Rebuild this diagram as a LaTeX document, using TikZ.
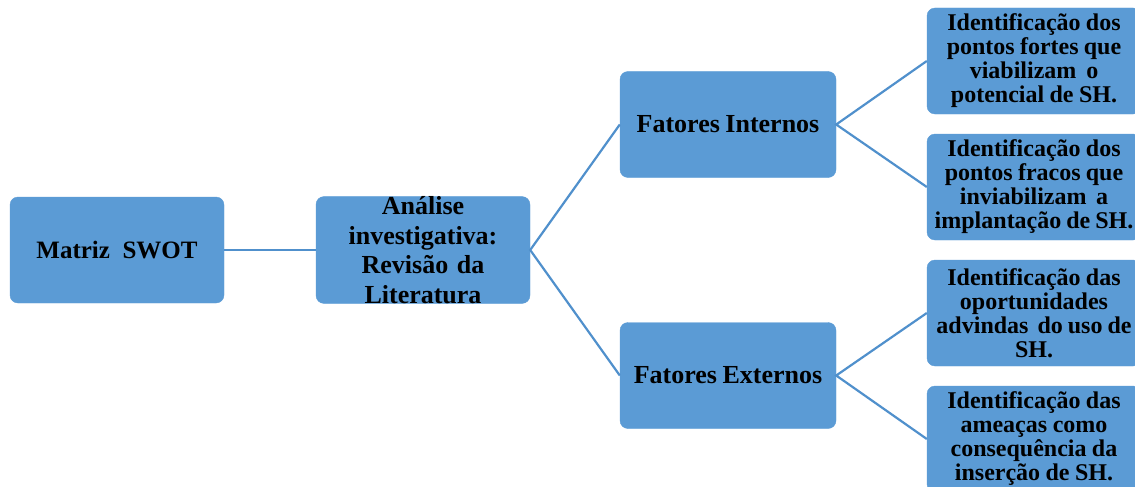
\documentclass[tikz,border=0pt]{standalone}
\usepackage{fontspec}
\setmainfont{Liberation Serif}
\definecolor{boxblue}{HTML}{5B9BD5}
\definecolor{lineblue}{HTML}{5090CC}
\newcommand\tightsp{\spaceskip=0.2em plus 0.05em minus 0.05em\relax}
\tikzset{
  box/.style={fill=boxblue, draw=boxblue, rounded corners=8pt, inner sep=0pt,
    align=center, font=\bfseries},
  mainbox/.style={box, minimum width=214pt, minimum height=106pt, text width=214pt},
  leafbox/.style={box, minimum width=214pt, minimum height=106pt, text width=210pt,
    font=\bfseries\fontsize{24}{24}\selectfont},
  link/.style={draw=lineblue, line width=2.2pt}
}
\begin{document}
\begin{tikzpicture}[x=1pt,y=-1pt]
\useasboundingbox (0,0) rectangle (1135,487);
\node[mainbox, font=\bfseries\fontsize{25}{29}\selectfont] (swot) at (117,250) {Matriz\, SWOT};
\node[mainbox, font=\bfseries\fontsize{26}{29.5}\selectfont] (ana) at (423,250) {Análise\\investigativa:\\Revisão da\\Literatura};
\node[mainbox, minimum width=216pt, font=\bfseries\fontsize{26}{29}\selectfont] (fi) at (728,124.5) {\tightsp Fatores Internos};
\node[mainbox, minimum width=216pt, font=\bfseries\fontsize{26}{29}\selectfont] (fe) at (728,375.5) {\tightsp Fatores Externos};
\node[leafbox] (l1) at (1034,61) {\tightsp Identificação dos\\pontos fortes que\\viabilizam\, o\\potencial de SH.};
\node[leafbox] (l2) at (1034,187) {\tightsp Identificação dos\\pontos fracos que\\inviabilizam\, a\\implantação de SH.};
\node[leafbox] (l3) at (1034,313) {\tightsp Identificação das\\oportunidades\\advindas\, do uso de\\SH.};
\node[leafbox] (l4) at (1034,439) {\tightsp Identificação das\\ameaças como\\consequência da\\inserção de SH.};
\draw[link] (swot.east) -- (ana.west);
\draw[link] (fi.west) -- (ana.east) -- (fe.west);
\draw[link] (l1.west) -- (fi.east) -- (l2.west);
\draw[link] (l3.west) -- (fe.east) -- (l4.west);
\end{tikzpicture}
\end{document}
